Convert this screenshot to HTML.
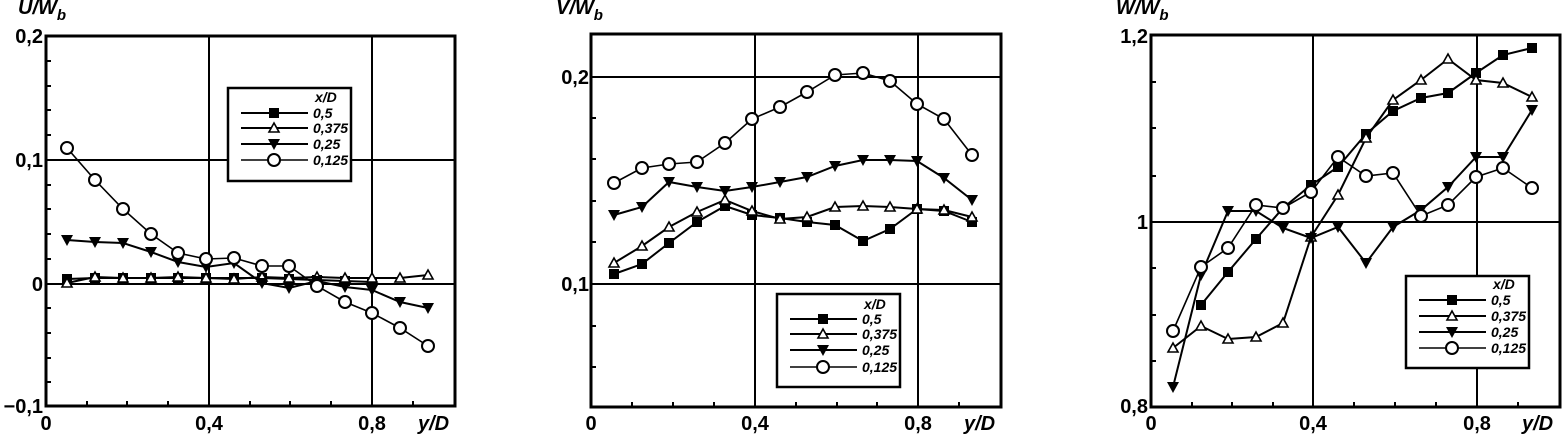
<!DOCTYPE html>
<html><head><meta charset="utf-8"><style>
html,body{margin:0;padding:0;background:#fff;}
svg{display:block;font-family:"Liberation Sans",Arial,sans-serif;}
.t{font-size:20px;font-weight:bold;fill:#000;}
.ti{font-size:20px;font-weight:bold;font-style:italic;fill:#000;}
.lg{font-size:14px;font-weight:bold;font-style:italic;fill:#000;}
</style></head><body>
<svg width="1562" height="436" viewBox="0 0 1562 436" xmlns="http://www.w3.org/2000/svg">
<defs>
<marker id="sq" markerUnits="userSpaceOnUse" markerWidth="14" markerHeight="14" refX="7" refY="7"><rect x="2" y="2" width="10" height="10" fill="#000"/></marker>
<marker id="ut" markerUnits="userSpaceOnUse" markerWidth="16" markerHeight="16" refX="8" refY="8"><path d="M8,3 L13,12 L3,12 Z" fill="#fff" stroke="#000" stroke-width="1.6"/></marker>
<marker id="dt" markerUnits="userSpaceOnUse" markerWidth="16" markerHeight="16" refX="8" refY="8"><path d="M2,3 L14,3 L8,14 Z" fill="#000"/></marker>
<marker id="ci" markerUnits="userSpaceOnUse" markerWidth="18" markerHeight="18" refX="9" refY="9"><circle cx="9" cy="9" r="6" fill="#fff" stroke="#000" stroke-width="2"/></marker>
</defs>
<g fill="none" stroke="#000">
<!-- Panel 1 -->
<rect x="46" y="36" width="409" height="370" stroke-width="3"/>
<line x1="209" y1="36" x2="209" y2="406" stroke-width="2"/>
<line x1="372" y1="36" x2="372" y2="406" stroke-width="2"/>
<line x1="46" y1="160" x2="455" y2="160" stroke-width="2"/>
<line x1="46" y1="284" x2="455" y2="284" stroke-width="2"/>
<path d="M46,61h5M46,86h5M46,110h5M46,135h5M46,185h5M46,209h5M46,234h5M46,259h5M46,308h5M46,333h5M46,358h5M46,382h5M87,406v-5M127,406v-5M168,406v-5M250,406v-5M290,406v-5M331,406v-5M413,406v-5" stroke-width="2"/>
<g stroke-width="2">
<polyline marker-start="url(#sq)" marker-mid="url(#sq)" marker-end="url(#sq)" points="67,279 95,278 123,278 151,278 178,278 206,278 234,278 262,278 289,279 317,280 345,281 372,282"/>
<polyline marker-start="url(#ut)" marker-mid="url(#ut)" marker-end="url(#ut)" points="67,283 95,277 123,278 151,278 178,277 206,278 234,279 262,277 289,278 317,277 345,278 372,278 400,278 428,275"/>
<polyline marker-start="url(#dt)" marker-mid="url(#dt)" marker-end="url(#dt)" points="67,240 95,242 123,243 151,252 178,262 206,267 234,263 262,283 289,288 317,281 345,287 372,290 400,302 428,308"/>
<polyline stroke-width="1.6" marker-start="url(#ci)" marker-mid="url(#ci)" marker-end="url(#ci)" points="67,148 95,180 123,209 151,234 178,253 206,259 234,258 262,266 289,266 317,286 345,302 372,313 400,328 428,346"/>
</g>
<rect x="228" y="88" width="123" height="93" fill="#fff" stroke-width="2.5"/>
<g stroke-width="2">
<polyline points="241,113 274,113 308,113" marker-mid="url(#sq)"/>
<polyline points="241,128 274,128 308,128" marker-mid="url(#ut)"/>
<polyline points="241,144 274,144 308,144" marker-mid="url(#dt)"/>
<polyline points="241,160 274,160 308,160" stroke-width="1.6" marker-mid="url(#ci)"/>
</g>
<!-- Panel 2 -->
<rect x="591" y="34" width="410" height="373" stroke-width="3"/>
<line x1="755" y1="34" x2="755" y2="407" stroke-width="2"/>
<line x1="918" y1="34" x2="918" y2="407" stroke-width="2"/>
<line x1="591" y1="77" x2="1001" y2="77" stroke-width="2"/>
<line x1="591" y1="284" x2="1001" y2="284" stroke-width="2"/>
<path d="M591,118h5M591,159h5M591,201h5M591,242h5M591,326h5M591,367h5M632,407v-5M673,407v-5M714,407v-5M796,407v-5M837,407v-5M877,407v-5M959,407v-5" stroke-width="2"/>
<g stroke-width="2">
<polyline marker-start="url(#sq)" marker-mid="url(#sq)" marker-end="url(#sq)" points="614,274 642,264 669,243 697,222 725,206 752,215 780,218 807,222 835,225 863,241 890,229 917,209 944,211 972,222"/>
<polyline marker-start="url(#ut)" marker-mid="url(#ut)" marker-end="url(#ut)" points="614,263 642,246 669,227 697,212 725,200 752,211 780,219 807,217 835,207 863,206 890,207 917,209 944,210 972,217"/>
<polyline marker-start="url(#dt)" marker-mid="url(#dt)" marker-end="url(#dt)" points="614,215 642,207 669,182 697,187 725,191 752,187 780,182 807,177 835,166 863,160 890,160 917,161 944,178 972,200"/>
<polyline stroke-width="1.6" marker-start="url(#ci)" marker-mid="url(#ci)" marker-end="url(#ci)" points="614,183 642,168 669,164 697,162 725,143 752,119 780,107 807,92 835,75 863,73 890,81 917,104 944,119 972,155"/>
</g>
<rect x="777" y="294" width="123" height="93" fill="#fff" stroke-width="2.5"/>
<g stroke-width="2">
<polyline points="790,319 823,319 857,319" marker-mid="url(#sq)"/>
<polyline points="790,334 823,334 857,334" marker-mid="url(#ut)"/>
<polyline points="790,350 823,350 857,350" marker-mid="url(#dt)"/>
<polyline points="790,367 823,367 857,367" stroke-width="1.6" marker-mid="url(#ci)"/>
</g>
<!-- Panel 3 -->
<rect x="1151" y="35" width="409" height="372" stroke-width="3"/>
<line x1="1313" y1="35" x2="1313" y2="407" stroke-width="2"/>
<line x1="1477" y1="35" x2="1477" y2="407" stroke-width="2"/>
<line x1="1151" y1="222" x2="1561" y2="222" stroke-width="2"/>
<path d="M1151,82h5M1151,128h5M1151,176h5M1151,268h5M1151,315h5M1151,361h5M1192,407v-5M1232,407v-5M1273,407v-5M1354,407v-5M1395,407v-5M1436,407v-5M1518,407v-5" stroke-width="2"/>
<g stroke-width="2">
<polyline marker-start="url(#sq)" marker-mid="url(#sq)" marker-end="url(#sq)" points="1201,305 1228,272 1256,239 1283,208 1311,185 1338,167 1366,134 1393,111 1421,98 1448,93 1476,73 1503,55 1532,48"/>
<polyline marker-start="url(#ut)" marker-mid="url(#ut)" marker-end="url(#ut)" points="1173,348 1201,326 1228,339 1256,337 1283,323 1311,237 1338,195 1366,138 1393,100 1421,80 1448,59 1476,80 1503,83 1532,97"/>
<polyline marker-start="url(#dt)" marker-mid="url(#dt)" marker-end="url(#dt)" points="1173,387 1201,275 1228,211 1256,211 1283,228 1311,238 1338,227 1366,263 1393,227 1421,210 1448,187 1476,157 1503,157 1532,110"/>
<polyline stroke-width="1.6" marker-start="url(#ci)" marker-mid="url(#ci)" marker-end="url(#ci)" points="1173,331 1201,267 1228,248 1256,205 1283,208 1311,192 1338,157 1366,176 1393,173 1421,216 1448,205 1476,177 1503,168 1532,188"/>
</g>
<rect x="1406" y="276" width="123" height="92" fill="#fff" stroke-width="2.5"/>
<g stroke-width="2">
<polyline points="1419,300 1452,300 1486,300" marker-mid="url(#sq)"/>
<polyline points="1419,316 1452,316 1486,316" marker-mid="url(#ut)"/>
<polyline points="1419,332 1452,332 1486,332" marker-mid="url(#dt)"/>
<polyline points="1419,348 1452,348 1486,348" stroke-width="1.6" marker-mid="url(#ci)"/>
</g>
</g>
<!-- Text panel 1 -->
<text class="ti" x="18" y="14">U/W<tspan font-size="15" dy="6">b</tspan></text>
<text class="t" x="43" y="43" text-anchor="end">0,2</text>
<text class="t" x="43" y="167" text-anchor="end">0,1</text>
<text class="t" x="43" y="291" text-anchor="end">0</text>
<text class="t" x="43" y="413" text-anchor="end">−0,1</text>
<text class="t" x="46" y="430" text-anchor="middle">0</text>
<text class="t" x="209" y="430" text-anchor="middle">0,4</text>
<text class="t" x="372" y="430" text-anchor="middle">0,8</text>
<text class="ti" x="418" y="430">y/D</text>
<text class="lg" x="315" y="102">x/D</text>
<text class="lg" x="313" y="118">0,5</text>
<text class="lg" x="313" y="133">0,375</text>
<text class="lg" x="313" y="149">0,25</text>
<text class="lg" x="313" y="165">0,125</text>
<!-- Text panel 2 -->
<text class="ti" x="556" y="14">V/W<tspan font-size="15" dy="6">b</tspan></text>
<text class="t" x="589" y="84" text-anchor="end">0,2</text>
<text class="t" x="589" y="291" text-anchor="end">0,1</text>
<text class="t" x="591" y="430" text-anchor="middle">0</text>
<text class="t" x="755" y="430" text-anchor="middle">0,4</text>
<text class="t" x="918" y="430" text-anchor="middle">0,8</text>
<text class="ti" x="964" y="430">y/D</text>
<text class="lg" x="864" y="309">x/D</text>
<text class="lg" x="862" y="324">0,5</text>
<text class="lg" x="862" y="339">0,375</text>
<text class="lg" x="862" y="355">0,25</text>
<text class="lg" x="862" y="372">0,125</text>
<!-- Text panel 3 -->
<text class="ti" x="1116" y="14">W/W<tspan font-size="15" dy="6">b</tspan></text>
<text class="t" x="1148" y="43" text-anchor="end">1,2</text>
<text class="t" x="1148" y="229" text-anchor="end">1</text>
<text class="t" x="1148" y="413" text-anchor="end">0,8</text>
<text class="t" x="1151" y="430" text-anchor="middle">0</text>
<text class="t" x="1313" y="430" text-anchor="middle">0,4</text>
<text class="t" x="1477" y="430" text-anchor="middle">0,8</text>
<text class="ti" x="1522" y="430">y/D</text>
<text class="lg" x="1493" y="289">x/D</text>
<text class="lg" x="1491" y="305">0,5</text>
<text class="lg" x="1491" y="321">0,375</text>
<text class="lg" x="1491" y="337">0,25</text>
<text class="lg" x="1491" y="353">0,125</text>
</svg>
</body></html>
